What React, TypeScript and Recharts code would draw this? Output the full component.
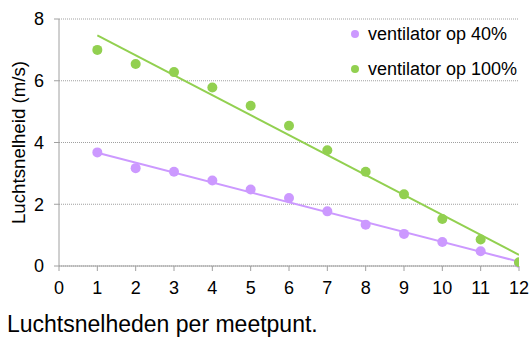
import React from "react";
import { ScatterChart, Scatter, XAxis, YAxis, CartesianGrid } from "recharts";

const meetpunten = [1, 2, 3, 4, 5, 6, 7, 8, 9, 10, 11, 12];
const snelheid40 = [3.68, 3.17, 3.05, 2.77, 2.48, 2.2, 1.77, 1.34, 1.04, 0.78, 0.48, 0.1];
const snelheid100 = [7.0, 6.54, 6.28, 5.78, 5.19, 4.54, 3.75, 3.05, 2.32, 1.52, 0.86, 0.12];
const trendX = [1, 12];
const trend40 = [3.67, 0.14];
const trend100 = [7.47, 0.36];
const xTicks = [0, 1, 2, 3, 4, 5, 6, 7, 8, 9, 10, 11, 12];
const yTicks = [0, 2, 4, 6, 8];
const seriesNames = ["ventilator op 40%", "ventilator op 100%"];

const PURPLE = "#cc99ff";
const GREEN = "#92d050";
const FONT = "'Liberation Sans', Arial, sans-serif";

const data40 = meetpunten.map((x, i) => ({ x, y: snelheid40[i] }));
const data100 = meetpunten.map((x, i) => ({ x, y: snelheid100[i] }));
const tr40 = trendX.map((x, i) => ({ x, y: trend40[i] }));
const tr100 = trendX.map((x, i) => ({ x, y: trend100[i] }));

const Dot = (props: any) => {
  const { cx, cy, fill } = props;
  return <circle cx={cx} cy={cy} r={5} fill={fill} />;
};
const NoShape = () => null;

const YLabel = (props: any) => {
  const vb = props.viewBox || {};
  const cy = vb.y + vb.height / 2;
  return (
    <text
      x={0}
      y={0}
      transform={`translate(18, ${cy}) rotate(-90)`}
      textAnchor="middle"
      dominantBaseline="central"
      fontSize={18.7}
      fontFamily={FONT}
      fill="#000"
    >
      Luchtsnelheid (m/s)
    </text>
  );
};

export default function App() {
  const tickStyle = { fontSize: 18, fontFamily: FONT, fill: "#000" };
  return (
    <div style={{ position: "absolute", left: 0, top: 0, width: 529, height: 338, background: "#fff" }}>
      <ScatterChart width={529} height={338} margin={{ top: 19, right: 10, left: 0, bottom: 42 }}>
        <CartesianGrid vertical={false} stroke="#a0a0a0" strokeDasharray="1 1" />
        <XAxis
          type="number"
          dataKey="x"
          domain={[0, 12]}
          ticks={xTicks}
          interval={0}
          height={30}
          tick={tickStyle}
          tickSize={5}
          tickMargin={10}
          stroke="#a0a0a0"
          allowDataOverflow
        />
        <YAxis
          type="number"
          dataKey="y"
          domain={[0, 8]}
          ticks={yTicks}
          interval={0}
          width={59}
          tick={tickStyle}
          tickSize={5}
          tickMargin={10}
          stroke="#a0a0a0"
          label={<YLabel />}
        />
        <Scatter data={tr40} line={{ stroke: PURPLE, strokeWidth: 2 }} shape={NoShape} fill={PURPLE} isAnimationActive={false} legendType="none" />
        <Scatter data={tr100} line={{ stroke: GREEN, strokeWidth: 2 }} shape={NoShape} fill={GREEN} isAnimationActive={false} legendType="none" />
        <Scatter name={seriesNames[0]} data={data40} fill={PURPLE} shape={Dot} isAnimationActive={false} />
        <Scatter name={seriesNames[1]} data={data100} fill={GREEN} shape={Dot} isAnimationActive={false} />
      </ScatterChart>
      <div style={{ position: "absolute", left: 350, top: 16.5, fontFamily: FONT, fontSize: 18, color: "#000" }}>
        {seriesNames.map((n, i) => (
          <div key={n} style={{ height: 35, display: "flex", alignItems: "center", whiteSpace: "nowrap" }}>
            <span style={{ display: "inline-block", width: 8, height: 8, borderRadius: 4, background: i === 0 ? PURPLE : GREEN, marginLeft: 1, marginRight: 9 }} />
            <span>{n}</span>
          </div>
        ))}
      </div>
      <div style={{ position: "absolute", left: 7, top: 312.8, fontFamily: FONT, fontSize: 23, lineHeight: "23px", color: "#000", whiteSpace: "nowrap" }}>
        Luchtsnelheden per meetpunt.
      </div>
    </div>
  );
}
